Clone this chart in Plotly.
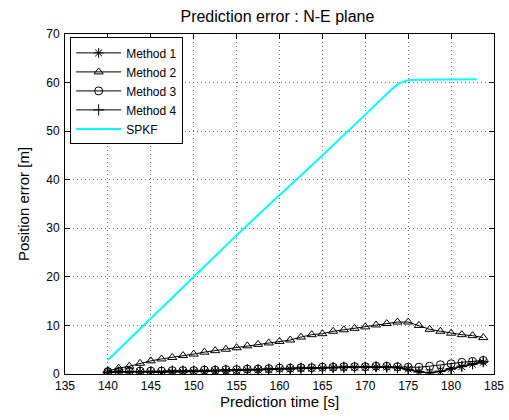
import plotly.graph_objects as go

# time samples for the four methods (every 1.25 s)
t_methods = [140.0, 141.25, 142.5, 143.75, 145.0, 146.25, 147.5, 148.75, 150.0, 151.25,
             152.5, 153.75, 155.0, 156.25, 157.5, 158.75, 160.0, 161.25, 162.5, 163.75,
             165.0, 166.25, 167.5, 168.75, 170.0, 171.25, 172.5, 173.75, 175.0, 176.25,
             177.5, 178.75, 180.0, 181.25, 182.5, 183.75]

method1 = [0.3, 0.4, 0.4, 0.4, 0.3, 0.3, 0.4, 0.4, 0.5, 0.5, 0.6, 0.6, 0.7, 0.8, 0.8, 0.9,
           1.0, 1.0, 1.1, 1.2, 1.2, 1.3, 1.3, 1.4, 1.4, 1.4, 1.4, 1.3, 1.0, 0.5, 0.2, 0.5,
           1.0, 1.5, 2.0, 2.4]
method2 = [0.6, 1.2, 1.6, 2.2, 2.7, 3.1, 3.4, 3.8, 4.1, 4.5, 4.8, 5.1, 5.4, 5.8, 6.1, 6.4,
           6.7, 7.0, 7.6, 8.1, 8.3, 8.8, 9.1, 9.4, 9.7, 10.1, 10.4, 10.7, 10.7, 10.0, 9.2,
           8.8, 8.4, 8.1, 7.9, 7.5]
method3 = [0.5, 0.5, 0.6, 0.6, 0.6, 0.6, 0.7, 0.7, 0.7, 0.8, 0.8, 0.9, 0.9, 1.0, 1.0, 1.1,
           1.2, 1.2, 1.3, 1.3, 1.4, 1.4, 1.5, 1.5, 1.5, 1.6, 1.6, 1.5, 1.4, 1.4, 1.6, 1.9,
           2.1, 2.4, 2.6, 2.8]
method4 = [0.4, 0.4, 0.5, 0.5, 0.5, 0.5, 0.6, 0.6, 0.6, 0.7, 0.7, 0.8, 0.8, 0.9, 0.9, 1.0,
           1.1, 1.1, 1.2, 1.2, 1.3, 1.3, 1.4, 1.4, 1.4, 1.5, 1.4, 1.3, 0.9, 0.4, 0.3, 0.6,
           1.1, 1.6, 2.1, 2.6]

# SPKF samples (every 1 s)
t_spkf = [140, 141, 142, 143, 144, 145, 146, 147, 148, 149, 150, 151, 152, 153, 154, 155,
          156, 157, 158, 159, 160, 161, 162, 163, 164, 165, 166, 167, 168, 169, 170, 171,
          172, 173, 174, 175, 176, 177, 178, 179, 180, 181, 182, 183]
spkf = [2.9, 4.6, 6.3, 8.0, 9.7, 11.4, 13.1, 14.9, 16.6, 18.3, 20.0, 21.7, 23.4, 25.1,
        26.9, 28.6, 30.3, 31.9, 33.6, 35.2, 36.8, 38.4, 40.0, 41.7, 43.4, 45.0, 46.7, 48.3,
        50.0, 51.7, 53.4, 55.1, 56.8, 58.5, 59.9, 60.5, 60.6, 60.6, 60.6, 60.7, 60.7, 60.7,
        60.7, 60.7]

x_ticks = [135, 140, 145, 150, 155, 160, 165, 170, 175, 180, 185]
y_ticks = [0, 10, 20, 30, 40, 50, 60, 70]

FONT = "Liberation Sans, Arial, sans-serif"

fig = go.Figure()
mk = dict(color="black", size=8, line=dict(color="black", width=1))
fig.add_trace(go.Scatter(x=t_methods, y=method1, name="Method 1", mode="lines+markers",
                         line=dict(color="black", width=1),
                         marker=dict(symbol="asterisk-open", **mk)))
fig.add_trace(go.Scatter(x=t_methods, y=method2, name="Method 2", mode="lines+markers",
                         line=dict(color="black", width=1),
                         marker=dict(symbol="triangle-up-open", **mk)))
fig.add_trace(go.Scatter(x=t_methods, y=method3, name="Method 3", mode="lines+markers",
                         line=dict(color="black", width=1),
                         marker=dict(symbol="circle-open", **mk)))
fig.add_trace(go.Scatter(x=t_methods, y=method4, name="Method 4", mode="lines+markers",
                         line=dict(color="black", width=1),
                         marker=dict(symbol="cross-thin-open", **mk)))
fig.add_trace(go.Scatter(x=t_spkf, y=spkf, name="SPKF", mode="lines",
                         line=dict(color="#00FFFF", width=2)))

axis_common = dict(showline=True, linecolor="black", linewidth=1, mirror="ticks",
                   ticks="inside", ticklen=5, tickcolor="black", automargin=False,
                   showgrid=True, gridcolor="#707070", griddash="1px,3px", gridwidth=1,
                   zeroline=False, tickfont=dict(family=FONT, size=12, color="black"))

fig.update_layout(
    width=509, height=420,
    margin=dict(l=65, r=15, t=34, b=46),
    paper_bgcolor="white", plot_bgcolor="white",
    font=dict(family=FONT, color="black"),
    title=dict(text="Prediction error : N-E plane", x=0.545, xanchor="center",
               y=0.962, yanchor="middle", font=dict(family=FONT, size=16, color="black")),
    xaxis=dict(range=[135, 185], tickvals=x_ticks, ticktext=[str(v) for v in x_ticks],
               ticklabelstandoff=1,
               title=dict(text="Prediction time [s]", font=dict(family=FONT, size=15), standoff=4),
               **axis_common),
    yaxis=dict(range=[0, 70], tickvals=y_ticks, ticktext=[str(v) for v in y_ticks],
               ticklabelstandoff=2,
               title=dict(text="Position error [m]", font=dict(family=FONT, size=15), standoff=12),
               **axis_common),
    legend=dict(x=0.012, y=0.99, xanchor="left", yanchor="top",
                bgcolor="white", bordercolor="black", borderwidth=1,
                font=dict(family=FONT, size=12, color="black"),
                itemwidth=45,
                tracegroupgap=0, itemsizing="trace"),
    showlegend=True,
)

fig.write_html("out.html")
